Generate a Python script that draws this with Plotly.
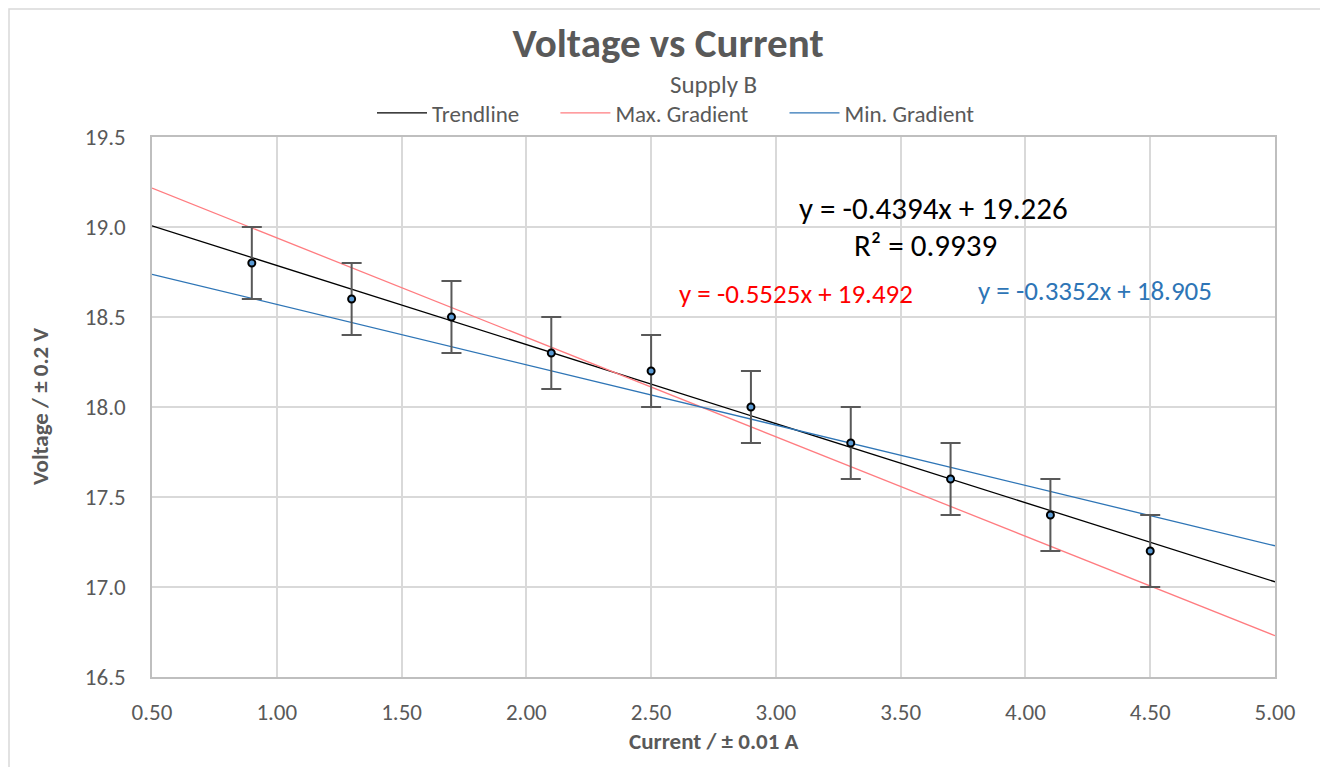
import plotly.graph_objects as go

current = [0.9, 1.3, 1.7, 2.1, 2.5, 2.9, 3.3, 3.7, 4.1, 4.5]
voltage = [18.8, 18.6, 18.5, 18.3, 18.2, 18.0, 17.8, 17.6, 17.4, 17.2]
voltage_err = [0.2] * 10

line_names = ["Trendline", "Max. Gradient", "Min. Gradient"]
slopes = [-0.4394, -0.5525, -0.3352]
intercepts = [19.226, 19.492, 18.905]
line_colors = ["#000000", "#ff7c80", "#2e75b6"]
x_span = [0.5, 5.0]

FONT = "Carlito, Lato, sans-serif"
GREY = "#595959"
PAD = "\u00a0" * 6

fig = go.Figure()

for i, (name, m, c, col) in enumerate(zip(line_names, slopes, intercepts, line_colors)):
    fig.add_trace(go.Scatter(
        x=x_span, y=[m * x + c for x in x_span], mode="lines",
        name=name + (PAD if i < len(line_names) - 1 else ""),
        line=dict(color=col, width=1.3), hoverinfo="skip"))

fig.add_trace(go.Scatter(
    x=current, y=voltage, mode="markers", showlegend=False,
    marker=dict(symbol="circle", size=7, color="#5b9bd5",
                line=dict(color="#000000", width=2)),
    error_y=dict(type="data", array=voltage_err, visible=True,
                 color=GREY, thickness=2, width=10)))

ann = [
    dict(x=3.63, y=19.106, text="y = -0.4394x + 19.226", color="#000000", size=31),
    dict(x=3.60, y=18.90, text="R² = 0.9939", color="#000000", size=31),
    dict(x=3.08, y=18.633, text="y = -0.5525x + 19.492", color="#ff0000", size=27),
    dict(x=4.28, y=18.65, text="y = -0.3352x + 18.905", color="#2e75b6", size=27),
]
for a in ann:
    fig.add_annotation(x=a["x"], y=a["y"], text=a["text"], showarrow=False,
                       font=dict(family=FONT, size=a["size"], color=a["color"]),
                       xanchor="center", yanchor="middle")

# subtitle
fig.add_annotation(x=0.5, xref="paper", y=(677 - 84) / 540, yref="paper",
                   yanchor="middle", text="Supply B", showarrow=False,
                   font=dict(family=FONT, size=25, color=GREY))
# axis titles
fig.add_annotation(x=0.5, xref="paper", y=(677 - 741) / 540, yref="paper",
                   yanchor="middle", text="<b>Current / ± 0.01 A</b>", showarrow=False,
                   font=dict(family=FONT, size=23, color=GREY))
fig.add_annotation(x=(40 - 152) / 1123, xref="paper", y=(677 - 407) / 540, yref="paper",
                   xanchor="center", yanchor="middle", textangle=-90,
                   text="<b>Voltage / ± 0.2 V</b>", showarrow=False,
                   font=dict(family=FONT, size=23, color=GREY))

# outer chart border
fig.add_shape(type="rect", xref="paper", yref="paper",
              x0=(9 - 152) / 1123, x1=(1326 - 152) / 1123,
              y0=(677 - 775) / 540, y1=(677 - 9) / 540,
              line=dict(color="#d9d9d9", width=1.5), layer="below")

fig.update_layout(
    width=1320, height=759,
    margin=dict(l=144, r=53, t=129, b=90),
    paper_bgcolor="white", plot_bgcolor="white",
    font=dict(family=FONT, color=GREY, size=23),
    title=dict(text="<b>Voltage vs Current</b>", x=0.5, xanchor="center",
               y=1 - 35 / 759, yanchor="middle",
               font=dict(family=FONT, size=41, color=GREY)),
    legend=dict(orientation="h", x=(676 - 152) / 1123, xanchor="center",
                y=(677 - 113) / 540, yanchor="middle",
                font=dict(family=FONT, size=23, color=GREY), itemwidth=50,
                bgcolor="rgba(0,0,0,0)"),
    xaxis=dict(range=[0.5, 5.0], dtick=0.5, tick0=0.5, tickformat=".2f",
               showgrid=True, gridcolor="#d9d9d9", gridwidth=2,
               showline=True, linecolor="#bfbfbf", linewidth=1.5, mirror=True,
               zeroline=False, ticks="", ticklabelstandoff=14,
               tickfont=dict(size=23, color=GREY)),
    yaxis=dict(range=[16.5, 19.5], dtick=0.5, tick0=16.5, tickformat=".1f",
               showgrid=True, gridcolor="#d9d9d9", gridwidth=2,
               showline=True, linecolor="#bfbfbf", linewidth=1.5, mirror=True,
               zeroline=False, ticks="", ticklabelstandoff=20,
               tickfont=dict(size=23, color=GREY)),
)

fig.write_html("out.html")
